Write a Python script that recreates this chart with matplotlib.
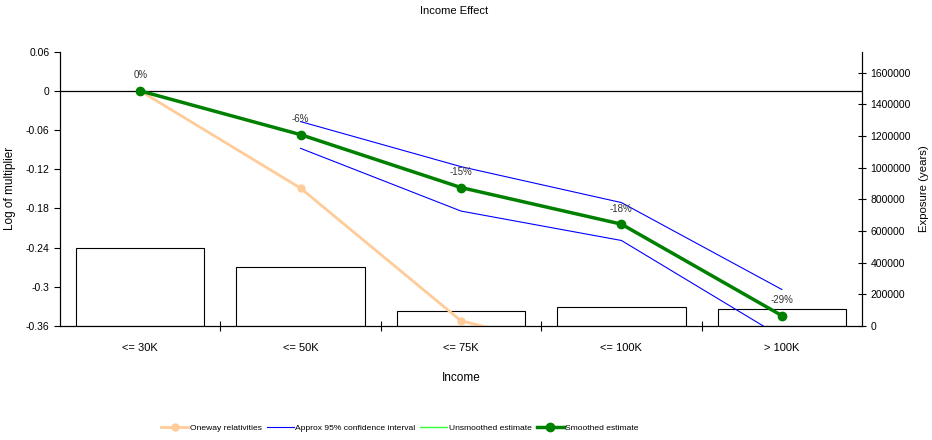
import numpy as np
import matplotlib
matplotlib.use("Agg")
import matplotlib.pyplot as plt
from matplotlib.ticker import FixedLocator, FuncFormatter

plt.rcParams["font.family"] = ["Liberation Sans", "DejaVu Sans"]

# income bands and model output (log scale) plus exposure counts
categories = ["<= 30K", "<= 50K", "<= 75K", "<= 100K", "> 100K"]
exposure = [491000, 371000, 93000, 122000, 105000]
oneway = [0.0, -0.149, -0.352, -0.413, -0.46]
ci_upper = [np.nan, -0.047, -0.116, -0.171, -0.304]
ci_lower = [np.nan, -0.088, -0.184, -0.229, -0.377]
unsmoothed = [0.0, -0.067, -0.148, -0.204, -0.344]
smoothed = [0.0, -0.067, -0.148, -0.204, -0.344]
pct_labels = ["0%", "-6%", "-15%", "-18%", "-29%"]

x = np.arange(len(categories))

fig = plt.figure(figsize=(9.32, 4.4), dpi=100)
ax = fig.add_axes([0.0644, 0.259, 0.8605, 0.6235])
ax2 = ax.twinx()

# exposure bars on the right axis, drawn behind the lines
ax2.bar(x, exposure, width=0.8, facecolor="white", edgecolor="black", linewidth=0.8)
ax2.set_ylim(0, 1733000)
ax2.set_yticks(np.arange(0, 1600001, 200000))
ax2.yaxis.set_major_formatter(FuncFormatter(lambda v, p: f"{v:.0f}"))
ax2.tick_params(axis="y", direction="inout", length=6, width=0.8, labelsize=7.5, pad=3)
ax2.set_ylabel("Exposure (years)", fontsize=8.2)
ax2.yaxis.set_label_coords(1.071, 0.5)

ax.set_zorder(ax2.get_zorder() + 1)
ax.patch.set_visible(False)

ax.axhline(0, color="black", linewidth=0.9, zorder=1)
ax.plot(x, oneway, color="#FFCC99", linewidth=2, marker="o", markersize=5,
        label="Oneway relativities", zorder=2)
ax.plot(x, ci_upper, color="#0000FF", linewidth=0.8, label="Approx 95% confidence interval", zorder=3)
ax.plot(x, ci_lower, color="#0000FF", linewidth=0.8, zorder=3)
ax.plot(x, unsmoothed, color="#33FF33", linewidth=1, label="Unsmoothed estimate", zorder=3)
ax.plot(x, smoothed, color="#008000", linewidth=2.5, marker="o", markersize=6,
        label="Smoothed estimate", zorder=4)

for xi, yi, txt in zip(x, smoothed, pct_labels):
    ax.annotate(txt, (xi, yi), xytext=(0, 7.5), textcoords="offset points",
                ha="center", va="bottom", fontsize=7, color="#333333")

ax.set_xlim(-0.5, len(categories) - 0.5)
ax.set_ylim(-0.36, 0.06)
ax.set_yticks(np.round(np.arange(-0.36, 0.061, 0.06), 2))
ax.set_yticklabels(["-0.36", "-0.3", "-0.24", "-0.18", "-0.12", "-0.06", "0", "0.06"])
ax.tick_params(axis="y", direction="out", length=4, width=0.8, labelsize=7.5)
ax.set_ylabel("Log of multiplier", fontsize=8.5)
ax.yaxis.set_label_coords(-0.055, 0.5)

ax.set_xticks(x)
ax.set_xticklabels(categories)
ax.xaxis.set_minor_locator(FixedLocator(x[:-1] + 0.5))
ax.tick_params(axis="x", which="major", length=0, labelsize=8, pad=12)
ax.tick_params(axis="x", which="minor", direction="inout", length=7, width=0.8)
ax.set_xlabel("Income", fontsize=8.5, labelpad=14)

for a in (ax, ax2):
    a.spines["top"].set_visible(False)
    for s in ("left", "right", "bottom"):
        a.spines[s].set_linewidth(0.8)
ax2.tick_params(axis="x", length=0)

fig.text(0.487, 0.975, "Income Effect", ha="center", va="center", fontsize=8)

handles, labels = ax.get_legend_handles_labels()
fig.legend(handles, labels, loc="center", bbox_to_anchor=(0.429, 0.027), ncol=4,
           frameon=False, fontsize=6.1, handlelength=3.2, handletextpad=0.15,
           columnspacing=0.6)

fig.savefig("out.png", dpi=100)
